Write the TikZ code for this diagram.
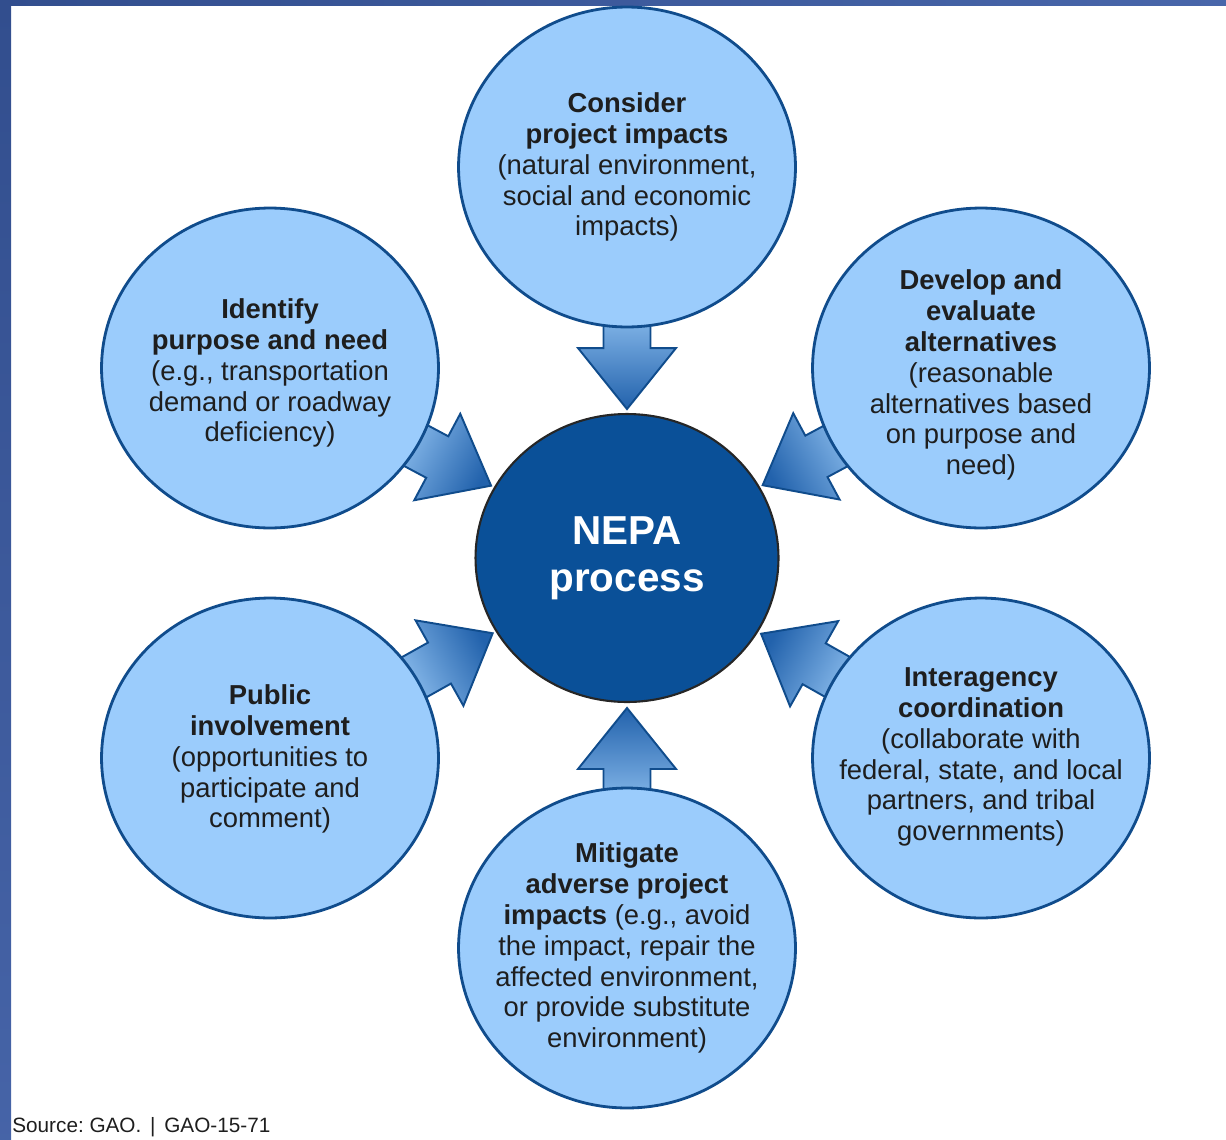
\documentclass[tikz,border=0pt]{standalone}
\usepackage{fontspec}
\setmainfont{Liberation Sans}
\usetikzlibrary{shapes.geometric,calc,backgrounds}
\frenchspacing

\definecolor{framebluea}{RGB}{50,78,142}
\definecolor{frameblueb}{RGB}{72,102,170}
\definecolor{stagefill}{RGB}{155,204,252}
\definecolor{stageline}{RGB}{16,76,140}
\definecolor{nepafill}{RGB}{10,80,152}
\definecolor{arrowlight}{RGB}{150,198,244}
\definecolor{arrowdark}{RGB}{34,98,172}
\definecolor{textgray}{RGB}{30,30,30}

% block arrow from the outer stage to the centre: #1 stage, #2 tip distance, #3 shading angle
\newcommand{\blockarrow}[3]{%
  \coordinate (#1-tip) at ($(nepa)!#2!(#1)$);
  \coordinate (#1-hb) at ($(#1-tip)!1.22cm!(#1)$);
  \coordinate (#1-se) at ($(#1-tip)!2.2cm!(#1)$);
  \draw[blockarrow, shading angle=#3] (#1-tip)
    -- ($(#1-hb)!0.98cm!90:(#1-tip)$) -- ($(#1-hb)!0.47cm!90:(#1-tip)$)
    -- ($(#1-se)!0.47cm!90:(#1-hb)$) -- ($(#1-se)!0.47cm!-90:(#1-hb)$)
    -- ($(#1-hb)!0.47cm!-90:(#1-tip)$) -- ($(#1-hb)!0.98cm!-90:(#1-tip)$)
    -- cycle;
}

\begin{document}
\begin{tikzpicture}[x=0.02cm, y=-0.02cm,
    stage/.style={ellipse, draw=stageline, fill=stagefill, line width=1.6pt,
      minimum width=6.74cm, minimum height=6.4cm, inner sep=0pt},
    stagetext/.style={align=center, text=textgray, inner sep=0pt,
      font=\fontsize{15.6}{17.6}\selectfont},
    centre/.style={ellipse, draw=black!85, fill=nepafill, line width=1.2pt,
      minimum width=6.06cm, minimum height=5.76cm, inner sep=0pt, text=white,
      align=center, font=\bfseries\fontsize{23}{26.6}\selectfont},
    blockarrow/.style={draw=stageline, line width=1.1pt, line join=miter,
      shading=axis, top color=arrowlight, bottom color=arrowdark}]
  \useasboundingbox (0,0) rectangle (1226,1139);

  % frame
  \shade[left color=framebluea, right color=frameblueb] (0,0) rectangle (1226,5);
  \shade[top color=framebluea, bottom color=frameblueb!90!framebluea] (0,0) rectangle (11,1139);

  \node[centre] (nepa) at (627,558) {NEPA\\process};

  \node[stage] (impacts) at (627,167) {};
  \node[stage] (purpose) at (270,368) {};
  \node[stage] (altern) at (981,368) {};
  \node[stage] (public) at (270,758) {};
  \node[stage] (coord) at (981,758) {};
  \node[stage] (mitigate) at (627,948) {};

  \begin{scope}[on background layer]
    \blockarrow{impacts}{2.98cm}{0}
    \blockarrow{purpose}{3.08cm}{61}
    \blockarrow{altern}{3.08cm}{-61}
    \blockarrow{public}{3.08cm}{119}
    \blockarrow{coord}{3.08cm}{241}
    \blockarrow{mitigate}{3.0cm}{180}
  \end{scope}

  \node[stagetext] (impacts-t) at (627,167) {\textbf{Consider}\\
    \textbf{project impacts}\\(natural environment,\\social and economic\\impacts)};
  \node[stagetext] (purpose-t) at (270,373) {\textbf{Identify}\\
    \textbf{purpose and need}\\(e.g., transportation\\demand or roadway\\deficiency)};
  \node[stagetext] (altern-t) at (981,375) {\textbf{Develop and}\\\textbf{evaluate}\\
    \textbf{alternatives}\\(reasonable\\alternatives based\\on purpose and\\need)};
  \node[stagetext] (public-t) at (270,759) {\textbf{Public}\\\textbf{involvement}\\
    (opportunities to\\participate and\\comment)};
  \node[stagetext] (coord-t) at (981,757) {\textbf{Interagency}\\\textbf{coordination}\\
    (collaborate with\\federal, state, and local\\partners, and tribal\\governments)};
  \node[stagetext] (mitigate-t) at (627,948) {\textbf{Mitigate}\\
    \textbf{adverse project}\\\textbf{impacts} (e.g., avoid\\the impact, repair the\\
    affected environment,\\or provide substitute\\environment)};

  \node[anchor=west, text=textgray, inner sep=0pt, font=\fontsize{11.8}{14}\selectfont]
    (source) at (12,1127) {Source: GAO.\hspace{5pt}|\hspace{5pt}GAO-15-71};
\end{tikzpicture}
\end{document}
